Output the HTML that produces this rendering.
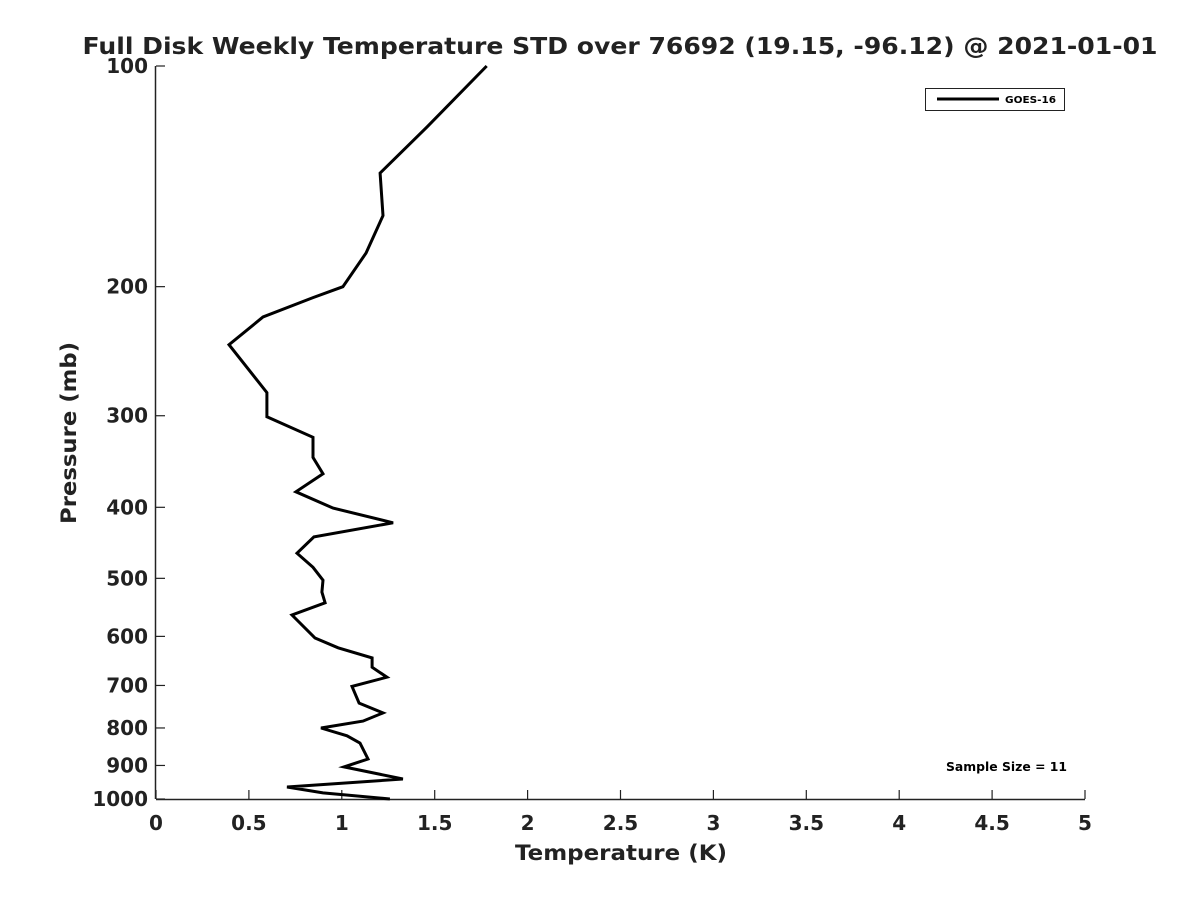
<!DOCTYPE html>
<html><head><meta charset="utf-8"><style>
html,body{margin:0;padding:0;background:#fff;}
svg{display:block;font-family:"DejaVu Sans","Liberation Sans",sans-serif;}
</style></head><body>
<svg width="1200" height="900" viewBox="0 0 1200 900">
<rect width="1200" height="900" fill="#fff"/>
<text x="620" y="54" text-anchor="middle" font-size="23" font-weight="bold" fill="#222" textLength="1075" lengthAdjust="spacingAndGlyphs">Full Disk Weekly Temperature STD over 76692 (19.15, -96.12) @ 2021-01-01</text>
<g id="axes"></g>
<g id="series"></g>
<text x="621" y="860" text-anchor="middle" font-size="21" font-weight="bold" fill="#222" textLength="212" lengthAdjust="spacingAndGlyphs">Temperature (K)</text>
<text transform="translate(76,433) rotate(-90)" text-anchor="middle" font-size="21" font-weight="bold" fill="#222" textLength="182" lengthAdjust="spacingAndGlyphs">Pressure (mb)</text>
<g>
<rect x="925.5" y="88.5" width="139" height="22" fill="#fff" stroke="#222" stroke-width="1"/>
<line x1="937" y1="99" x2="999" y2="99" stroke="#000" stroke-width="3"/>
<text x="1005" y="103" font-size="10" font-weight="bold" fill="#000" textLength="51" lengthAdjust="spacingAndGlyphs">GOES-16</text>
</g>
<text x="946" y="771" font-size="12" font-weight="bold" fill="#000" textLength="121" lengthAdjust="spacingAndGlyphs">Sample Size = 11</text>
</svg>
<script>
const xTicks = [0,0.5,1,1.5,2,2.5,3,3.5,4,4.5,5];
const xTickLabels = ["0","0.5","1","1.5","2","2.5","3","3.5","4","4.5","5"];
const yTicks = [100,200,300,400,500,600,700,800,900,1000];
const yTickLabels = ["100","200","300","400","500","600","700","800","900","1000"];
const pressures = [100,121,140,160,180,200,207,220,240,279,301,321,342,360,381,401,420,439,462,483,503,522,540,561,603,622,642,661,682,702,740,763,783,800,820,839,882,904,939,963,981,1000];
const stdValues = [1.78,1.46,1.206,1.222,1.13,1.006,0.845,0.576,0.393,0.597,0.597,0.845,0.845,0.899,0.753,0.953,1.276,0.85,0.759,0.845,0.899,0.893,0.91,0.732,0.856,0.98,1.163,1.163,1.243,1.055,1.093,1.222,1.114,0.888,1.028,1.098,1.141,1.012,1.329,0.705,0.899,1.259];

const X0=156,X1=1085,Y0=66,Y1=799;
function xs(v){return X0+(v-0)/(5-0)*(X1-X0);}
function ys(p){return Y0+(Math.log10(p)-2)/(3-2)*(Y1-Y0);}
const NS="http://www.w3.org/2000/svg";
const axes=document.getElementById('axes');
function mk(tag,attrs,parent){const e=document.createElementNS(NS,tag);for(const k in attrs)e.setAttribute(k,attrs[k]);parent.appendChild(e);return e;}

const xl=mk('line',{x1:X0,y1:Y1+0.5,x2:X1,y2:Y1+0.5,stroke:'#222','stroke-width':1.5},axes);


const yl=mk('line',{x1:X0-0.5,y1:Y0,x2:X0-0.5,y2:Y1,stroke:'#222','stroke-width':1.5},axes);



xTicks.forEach((v,i)=>{
  const x=xs(v);
  const t=mk('line',{x1:x,y1:Y1,x2:x,y2:Y1-9,stroke:'#222','stroke-width':1.2},axes);
  
  
  const l=mk('text',{x:x,y:Y1+31,'text-anchor':'middle','font-size':20,'font-weight':'bold',fill:'#222'},axes);
  l.textContent=xTickLabels[i];
  
  
});
yTicks.forEach((v,i)=>{
  const y=ys(v);
  const t=mk('line',{x1:X0,y1:y,x2:X0+9,y2:y,stroke:'#222','stroke-width':1.2},axes);
  
  
  const l=mk('text',{x:X0-8,y:y+7,'text-anchor':'end','font-size':20,'font-weight':'bold',fill:'#222'},axes);
  l.textContent=yTickLabels[i];
  
  
});
const pts=pressures.map((p,i)=>xs(stdValues[i]).toFixed(1)+','+ys(p).toFixed(1)).join(' ');
const pl=mk('polyline',{points:pts,fill:'none',stroke:'#000','stroke-width':3,'stroke-linejoin':'miter'},document.getElementById('series'));


</script>
</body></html>
